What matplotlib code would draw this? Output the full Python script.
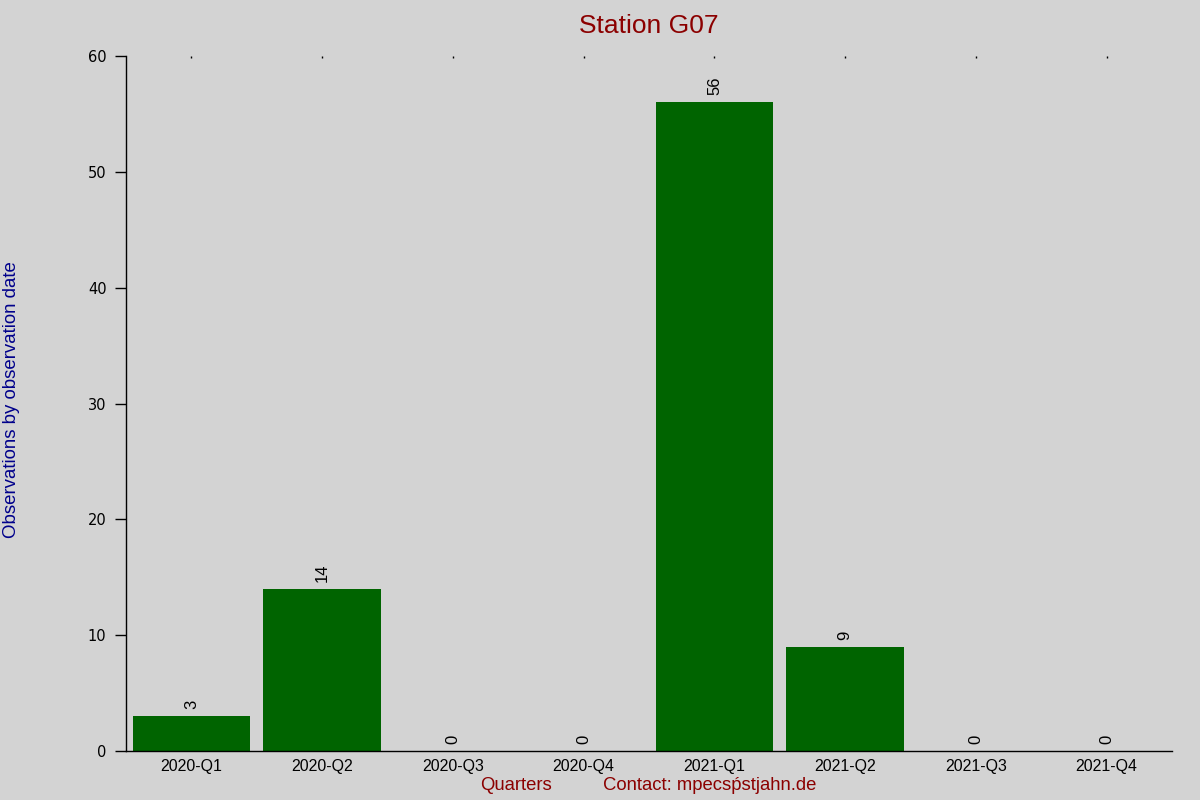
import matplotlib
matplotlib.use("Agg")
import matplotlib.pyplot as plt

categories = ["2020-Q1", "2020-Q2", "2020-Q3", "2020-Q4", "2021-Q1", "2021-Q2", "2021-Q3", "2021-Q4"]
values = [3, 14, 0, 0, 56, 9, 0, 0]
yticks = [0, 10, 20, 30, 40, 50, 60]

bg = "#d3d3d3"
fig = plt.figure(figsize=(12, 8), dpi=100, facecolor=bg)
ax = fig.add_axes([0.105, 0.06125, 0.8717, 0.86875], facecolor=bg)

x = list(range(len(categories)))
ax.bar(x, values, width=0.9, color="#006400")
for xi, v in zip(x, values):
    ax.annotate(str(v), (xi, v), xytext=(0, 5), textcoords="offset points",
                rotation=90, ha="center", va="bottom", fontsize=12,
                family="Liberation Sans", color="black")

ax.set_xlim(-0.5, 7.5)
ax.set_ylim(0, 60)
ax.set_xticks(x)
ax.set_xticklabels(categories, family="Liberation Sans", fontsize=11.4)
ax.tick_params(axis="x", bottom=False, top=True, direction="in", length=1.5, width=1,
               labelbottom=True, labeltop=False, pad=6)
ax.set_yticks(yticks)
ax.set_yticklabels([str(t) for t in yticks], family="DejaVu Sans", fontsize=10.5)
ax.tick_params(axis="y", direction="out", length=8, width=1, pad=6)

for s in ["top", "right"]:
    ax.spines[s].set_visible(False)
for s in ["left", "bottom"]:
    ax.spines[s].set_linewidth(1)

fig.text(0.541, 0.982, "Station G07", ha="center", va="top", color="#8b0000",
         fontsize=19, family="Liberation Sans")
fig.text(0.0095, 0.5, "Observations by observation date", rotation=90, ha="center", va="center",
         color="#00008b", fontsize=13.4, family="Liberation Sans")
fig.text(0.43, 0.0175, "Quarters", ha="center", va="center", color="#8b0000",
         fontsize=13.3, family="Liberation Sans")
fig.text(0.5025, 0.0175, "Contact: mpecs\u1e55stjahn.de", ha="left", va="center", color="#8b0000",
         fontsize=13.3, family="Liberation Sans")

fig.savefig("out.png", dpi=100, facecolor=bg)
